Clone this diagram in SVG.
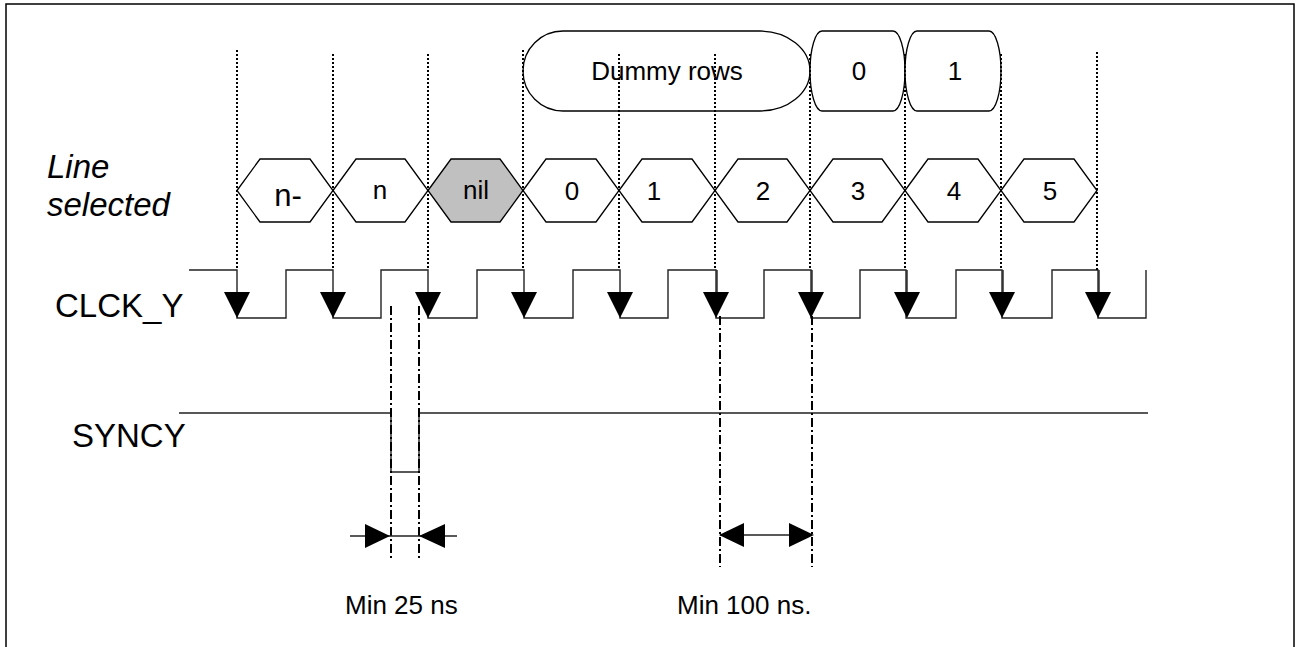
<svg xmlns="http://www.w3.org/2000/svg" width="1297" height="647" viewBox="0 0 1297 647">
<style>
.t{font-family:"Liberation Sans",Arial,sans-serif;fill:#000}
.c{text-anchor:middle}
.dot{stroke:#000;stroke-width:2;stroke-dasharray:2 2;fill:none}
.dd{stroke:#000;stroke-width:2;stroke-dasharray:9 3 2 3;fill:none}
.ln{stroke:#222;stroke-width:1.4;fill:none}
.hex{stroke:#000;stroke-width:1.3;fill:#fff}
.ah{fill:#000;stroke:none}
</style>
<rect x="6" y="4" width="1288" height="680" fill="#fff" stroke="#000" stroke-width="1.5"/>

<g id="labels">
<text class="t" x="47" y="178" font-size="33" font-style="italic">Line</text>
<text class="t" x="47" y="216" font-size="33" font-style="italic">selected</text>
<text class="t" x="55" y="317" font-size="33">CLCK_Y</text>
<text class="t" x="72" y="447" font-size="33">SYNCY</text>
<text class="t" x="345" y="614" font-size="26">Min 25 ns</text>
<text class="t" x="677" y="614" font-size="26">Min 100 ns.</text>
</g>

<g id="pills">
<g id="pill-dummy"><path class="hex" d="M563,31 H760 A50,40 0 0 1 760,111 H563 A40,40 0 0 1 563,31 Z"/><text class="t c" x="667" y="80" font-size="26">Dummy rows</text></g>
<g id="pill-0"><path class="hex" d="M822,31 H893 A12,40 0 0 1 893,111 H822 A12,40 0 0 1 822,31 Z"/><text class="t c" x="859" y="80" font-size="26">0</text></g>
<g id="pill-1"><path class="hex" d="M917,31 H989 A12,40 0 0 1 989,111 H917 A12,40 0 0 1 917,31 Z"/><text class="t c" x="955" y="80" font-size="26">1</text></g>
</g>

<g id="hexagons">
<g id="hex-nm"><polygon class="hex" points="237,190.5 260,159 310,159 333,190.5 310,222 260,222"/><text class="t c" x="288" y="206" font-size="31">n-</text></g>
<g id="hex-n"><polygon class="hex" points="333,190.5 356,159 405,159 428,190.5 405,222 356,222"/><text class="t c" x="380" y="199" font-size="26">n</text></g>
<g id="hex-nil"><polygon class="hex" style="fill:#c0c0c0" points="428,190.5 451,159 500,159 523,190.5 500,222 451,222"/><text class="t c" x="476" y="199" font-size="26">nil</text></g>
<g id="hex-0"><polygon class="hex" points="523,190.5 546,159 596,159 619,190.5 596,222 546,222"/><text class="t c" x="572" y="200" font-size="26">0</text></g>
<g id="hex-1"><polygon class="hex" points="619,190.5 642,159 692,159 715,190.5 692,222 642,222"/><text class="t c" x="654" y="200" font-size="26">1</text></g>
<g id="hex-2"><polygon class="hex" points="715,190.5 738,159 787,159 810,190.5 787,222 738,222"/><text class="t c" x="763" y="200" font-size="26">2</text></g>
<g id="hex-3"><polygon class="hex" points="810,190.5 833,159 882,159 905,190.5 882,222 833,222"/><text class="t c" x="858" y="200" font-size="26">3</text></g>
<g id="hex-4"><polygon class="hex" points="905,190.5 928,159 978,159 1001,190.5 978,222 928,222"/><text class="t c" x="954" y="200" font-size="26">4</text></g>
<g id="hex-5"><polygon class="hex" points="1001,190.5 1024,159 1074,159 1097,190.5 1074,222 1024,222"/><text class="t c" x="1050" y="200" font-size="26">5</text></g>
</g>

<g id="signals">
<path id="clck-y" class="ln" d="M189,270 H237 V318 H286 V270 H333 V318 H381 V270 H428 V318 H477 V270 H524 V318 H573 V270 H620 V318 H668 V270 H716 V318 H764 V270 H811 V318 H860 V270 H906 V318 H956 V270 H1002 V318 H1052 V270 H1098 V318 H1146 V270"/>
<path id="syncy" class="ln" d="M179,413 H391 V472 H419 V413 H1148"/>
</g>

<g id="connectors">
<path class="dot" d="M237,50 V270 M333,54 V270 M428,54 V270 M523,50 V270 M619,54 V270 M715,54 V270 M810,54 V270 M905,54 V270 M1001,54 V270 M1097,52 V270"/>
<g id="clock-arrows">
<path class="ln" d="M717,270 V292 M812,270 V292 M907,270 V292 M1003,270 V292 M1099,270 V292"/>
<polygon class="ah" points="224,292 250,292 237,318"/>
<polygon class="ah" points="320,292 346,292 333,318"/>
<polygon class="ah" points="415,292 441,292 428,318"/>
<polygon class="ah" points="511,292 537,292 524,318"/>
<polygon class="ah" points="607,292 633,292 620,318"/>
<polygon class="ah" points="703,292 729,292 716,318"/>
<polygon class="ah" points="798,292 824,292 811,318"/>
<polygon class="ah" points="894,292 920,292 907,318"/>
<polygon class="ah" points="989,292 1015,292 1002,318"/>
<polygon class="ah" points="1085,292 1111,292 1098,318"/>
</g>
<g id="dim-25ns">
<path class="dd" d="M391,306 V558 M419,306 V558"/>
<path class="ln" d="M350,536 H457"/>
<polygon class="ah" points="365,524 365,548 390,536"/>
<polygon class="ah" points="445,524 445,548 419,536"/>
</g>
<g id="dim-100ns">
<path class="dd" d="M720,316 V567 M812,316 V567"/>
<path class="ln" d="M720,535 H812"/>
<polygon class="ah" points="719,535 744,523 744,547"/>
<polygon class="ah" points="814,535 789,523 789,547"/>
</g>
</g>
</svg>
